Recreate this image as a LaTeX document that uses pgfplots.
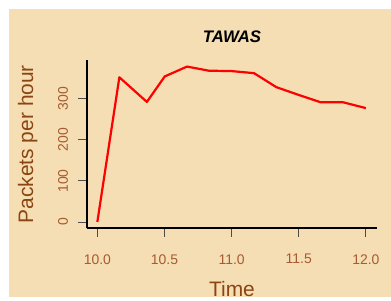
\documentclass[border=0pt]{standalone}
\usepackage{fontspec}
\setmainfont{Liberation Sans}
\usepackage{pgfplots}
\pgfplotsset{compat=1.18}
\definecolor{bgwheat}{HTML}{F5DEB3}
\definecolor{ticklab}{HTML}{A85A32}
\definecolor{labcol}{HTML}{8B4513}
\begin{document}
\begin{tikzpicture}[x=1bp,y=1bp]
\useasboundingbox (0,0) rectangle (391,301);
\fill[white] (0,0) rectangle (391,301);
\fill[bgwheat] (9,4) rectangle (391,292);
\begin{axis}[
  at={(87bp,72.7bp)}, anchor=south west,
  scale only axis, width=290bp, height=168.3bp,
  xmin=9.923, xmax=12.083, ymin=-15.3, ymax=394,
  axis x line*=bottom, axis y line*=left,
  axis line style={-, black, line width=1.8bp},
  xtick={10,10.5,11,11.5,12}, ytick={0,100,200,300},
  tick align=outside, major tick length=8.5bp,
  tick style={color=black!70, line width=0.8bp},
  /pgf/number format/assume math mode=true,
  xticklabel shift=14bp, yticklabel shift=7bp,
  xticklabel style={font=\fontsize{14}{16}\selectfont, text=ticklab,
    /pgf/number format/fixed, /pgf/number format/fixed zerofill, /pgf/number format/precision=1},
  yticklabel style={font=\fontsize{14}{16}\selectfont, text=ticklab, rotate=90, anchor=south},
  scaled ticks=false,
  title={TAWAS},
  title style={at={(axis description cs:0.5,1.0671)}, anchor=base,
    font=\bfseries\itshape\fontsize{16.8}{18}\selectfont},
  xlabel={Time},
  xlabel style={at={(axis description cs:0.5,-0.4064)}, anchor=base,
    font=\fontsize{21}{24}\selectfont, text=labcol},
  ylabel={Packets per hour},
  ylabel style={at={(axis description cs:-0.1862,0.5)}, anchor=base, rotate=0,
    font=\fontsize{21}{24}\selectfont, text=labcol},
]
\addplot[red, line width=2.2bp, line join=round] coordinates {
  (10.0,0) (10.164,352) (10.369,292) (10.502,354) (10.668,378)
  (10.830,368) (11.0,367) (11.167,362) (11.333,328) (11.5,309)
  (11.665,291) (11.833,291) (12.0,277)
};
\end{axis}
\end{tikzpicture}
\end{document}
